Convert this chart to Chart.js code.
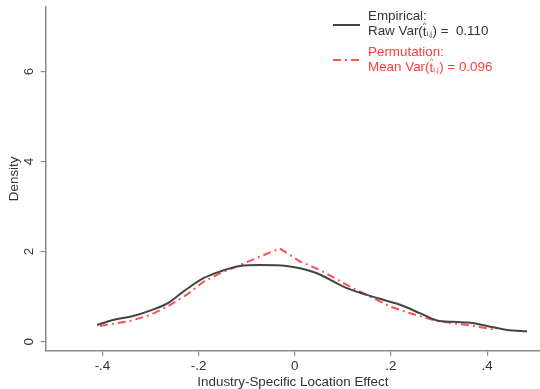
<!DOCTYPE html>
<html>
<head>
<meta charset="utf-8">
<script src="https://cdn.jsdelivr.net/npm/chart.js@4/dist/chart.umd.min.js"></script>
<style>
  html, body { margin: 0; padding: 0; background: #fff; }
  #wrap { width: 540px; height: 389px; position: relative; }
</style>
</head>
<body>
<div id="wrap"><canvas id="c" width="540" height="389"></canvas></div>
<script>
// Kernel density estimates of the industry-specific location effect
const empiricalX = [-0.411, -0.378, -0.336, -0.301, -0.265, -0.232, -0.19, -0.155, -0.114, -0.072, -0.017, 0.011, 0.046, 0.108, 0.15, 0.184, 0.219, 0.261, 0.296, 0.33, 0.365, 0.4, 0.441, 0.483];
const empiricalY = [0.37, 0.48, 0.57, 0.69, 0.85, 1.11, 1.41, 1.56, 1.68, 1.70, 1.68, 1.63, 1.52, 1.19, 1.04, 0.93, 0.82, 0.63, 0.47, 0.44, 0.42, 0.35, 0.26, 0.23];
const permutationX = [-0.405, -0.343, -0.301, -0.265, -0.225, -0.19, -0.155, -0.121, -0.072, -0.031, 0.011, 0.053, 0.115, 0.15, 0.198, 0.24, 0.296, 0.358, 0.42];
const permutationY = [0.35, 0.46, 0.59, 0.78, 1.04, 1.33, 1.52, 1.67, 1.89, 2.07, 1.78, 1.59, 1.22, 1.04, 0.78, 0.63, 0.46, 0.37, 0.26];
const xTicks = [-0.4, -0.2, 0, 0.2, 0.4];
const xTickLabels = ['-.4', '-.2', '0', '.2', '.4'];
const yTicks = [0, 2, 4, 6];
const yTickLabels = ['0', '2', '4', '6'];
const legendItems = [
  { head: 'Empirical:', pre: 'Raw Var(', post: ') =  0.110' },
  { head: 'Permutation:', pre: 'Mean Var(', post: ') = 0.096' }
];

const FONT = '"Liberation Sans", Arial, sans-serif';
const AXIS = '#8a8a8a';
const TEXT = '#333333';
const BLACK = '#444444';
const RED = 'rgba(255,50,50,0.85)';
const FS = 13.4;

const toPoints = (xs, ys) => xs.map((x, i) => ({ x: x, y: ys[i] }));

// Rotated y tick labels, axis titles and the legend box
const annotate = {
  id: 'annotate',
  afterDraw(chart) {
    const ctx = chart.ctx;
    const ys = chart.scales.y;
    const area = chart.chartArea;
    ctx.save();
    ctx.fillStyle = TEXT;
    ctx.font = FS + 'px ' + FONT;
    ctx.textAlign = 'center';
    ctx.textBaseline = 'middle';
    yTicks.forEach((v, i) => {
      const py = ys.getPixelForValue(v);
      ctx.save();
      ctx.translate(29.5, py);
      ctx.rotate(-Math.PI / 2);
      ctx.fillText(yTickLabels[i], 0, 0);
      ctx.restore();
    });
    // axis titles
    ctx.save();
    ctx.translate(14, (area.top + area.bottom) / 2);
    ctx.rotate(-Math.PI / 2);
    ctx.fillText('Density', 0, 0);
    ctx.restore();
    ctx.fillText('Industry-Specific Location Effect', (area.left + area.right) / 2, 382);

    // legend
    const lx0 = 333, lx1 = 360, tx = 368;
    const rows = [
      { lineY: 25, y1: 16, y2: 31, color: '#333333', dash: [], stroke: BLACK },
      { lineY: 60, y1: 52.5, y2: 67, color: 'rgba(255,40,40,0.9)', dash: [8, 4, 2, 4], stroke: RED }
    ];
    rows.forEach((r, i) => {
      const it = legendItems[i];
      ctx.beginPath();
      ctx.setLineDash(r.dash);
      ctx.strokeStyle = r.stroke;
      ctx.lineWidth = 2;
      ctx.moveTo(lx0, r.lineY);
      ctx.lineTo(lx1, r.lineY);
      ctx.stroke();
      ctx.setLineDash([]);
      ctx.fillStyle = r.color;
      ctx.textAlign = 'left';
      ctx.textBaseline = 'middle';
      ctx.font = FS + 'px ' + FONT;
      ctx.fillText(it.head, tx, r.y1);
      let x = tx;
      ctx.fillText(it.pre, x, r.y2);
      x += ctx.measureText(it.pre).width;
      // t with hat and i,j subscript
      ctx.fillText('t', x, r.y2 + 1);
      const tw = ctx.measureText('t').width;
      ctx.font = '8px ' + FONT;
      ctx.textAlign = 'center';
      ctx.fillText('^', x + tw / 2, r.y2 - 6.5);
      ctx.textAlign = 'left';
      ctx.font = '7.5px ' + FONT;
      ctx.fillText('i,j', x + tw, r.y2 + 3);
      const sw = ctx.measureText('i,j').width;
      x += tw + sw + 0.5;
      ctx.font = FS + 'px ' + FONT;
      ctx.fillText(it.post, x, r.y2);
    });
    ctx.restore();
  }
};

new Chart(document.getElementById('c'), {
  type: 'scatter',
  data: {
    datasets: [
      {
        label: 'Empirical',
        data: toPoints(empiricalX, empiricalY),
        showLine: true,
        borderColor: BLACK,
        borderWidth: 2,
        pointRadius: 0,
        cubicInterpolationMode: 'monotone'
      },
      {
        label: 'Permutation',
        data: toPoints(permutationX, permutationY),
        showLine: true,
        borderColor: RED,
        borderWidth: 2,
        borderDash: [8, 4, 2, 4],
        pointRadius: 0,
        tension: 0
      }
    ]
  },
  options: {
    responsive: false,
    animation: false,
    layout: { padding: { top: 7, right: 0, left: 0, bottom: 0 } },
    plugins: { legend: { display: false }, tooltip: { enabled: false } },
    scales: {
      x: {
        type: 'linear',
        min: -0.518,
        max: 0.51,
        afterBuildTicks(s) { s.ticks = xTicks.map(v => ({ value: v })); },
        afterFit(s) { s.height = 38.3; },
        border: { color: AXIS, width: 1.5 },
        grid: { display: true, drawOnChartArea: false, drawTicks: true, tickLength: 5, color: AXIS, lineWidth: 1.2 },
        ticks: {
          color: TEXT,
          font: { family: FONT, size: FS },
          padding: 3,
          maxRotation: 0,
          callback: (v) => { const i = xTicks.findIndex(t => Math.abs(t - v) < 1e-9); return i >= 0 ? xTickLabels[i] : ''; }
        }
      },
      y: {
        type: 'linear',
        min: -0.2,
        max: 7.43,
        afterBuildTicks(s) { s.ticks = yTicks.map(v => ({ value: v })); },
        afterFit(s) { s.width = 45.7; },
        border: { color: AXIS, width: 1.5 },
        grid: { display: true, drawOnChartArea: false, drawTicks: true, tickLength: 5, color: AXIS, lineWidth: 1.2 },
        ticks: { display: false }
      }
    }
  },
  plugins: [annotate]
});
</script>
</body>
</html>
